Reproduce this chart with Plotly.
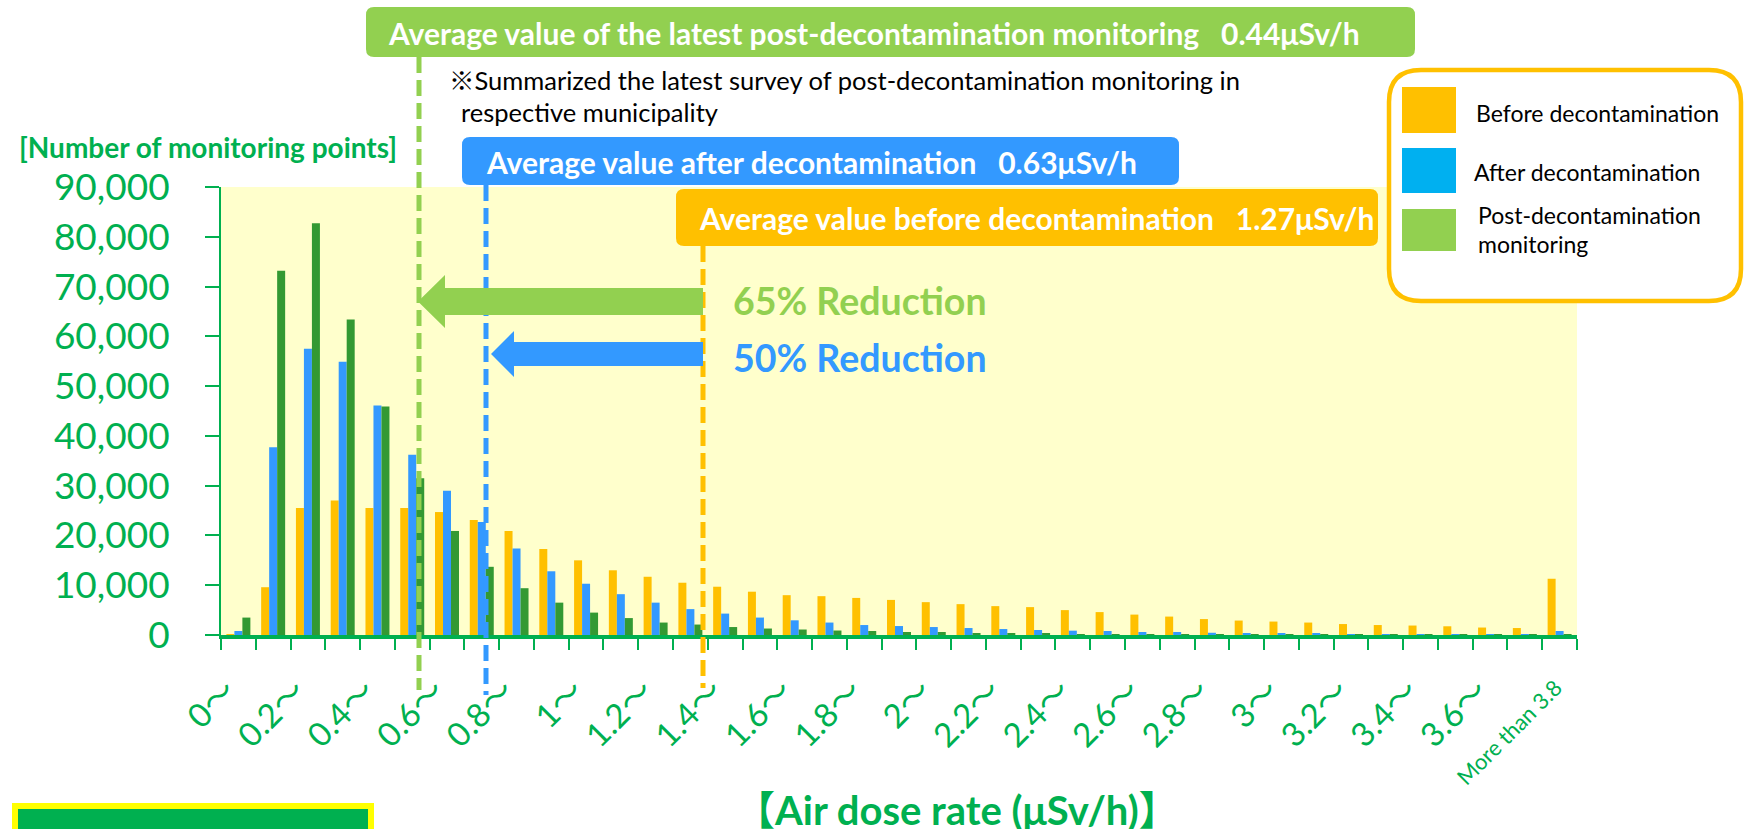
import plotly.graph_objects as go

# ---------------- data ----------------
categories = ["0〜", "0.1〜", "0.2〜", "0.3〜", "0.4〜", "0.5〜", "0.6〜", "0.7〜", "0.8〜", "0.9〜",
              "1〜", "1.1〜", "1.2〜", "1.3〜", "1.4〜", "1.5〜", "1.6〜", "1.7〜", "1.8〜", "1.9〜",
              "2〜", "2.1〜", "2.2〜", "2.3〜", "2.4〜", "2.5〜", "2.6〜", "2.7〜", "2.8〜", "2.9〜",
              "3〜", "3.1〜", "3.2〜", "3.3〜", "3.4〜", "3.5〜", "3.6〜", "3.7〜", "More than 3.8"]

before_decon = [50, 9600, 25500, 27000, 25500, 25500, 24700, 23100, 20900, 17300,
                15000, 13000, 11700, 10500, 9700, 8700, 8000, 7800, 7450, 7050,
                6600, 6200, 5800, 5600, 5000, 4600, 4100, 3700, 3200, 2900,
                2700, 2500, 2200, 2000, 1900, 1750, 1500, 1400, 11300]

after_decon = [800, 37700, 57500, 54900, 46100, 36200, 29000, 22700, 17400, 12800,
               10300, 8200, 6500, 5200, 4300, 3500, 2950, 2500, 2000, 1800,
               1600, 1400, 1200, 1000, 870, 800, 600, 600, 450, 400,
               330, 270, 200, 150, 120, 100, 80, 60, 800]

post_monitoring = [3500, 73200, 82700, 63400, 45900, 31500, 20900, 13700, 9400, 6500,
                   4500, 3400, 2500, 2100, 1600, 1300, 1100, 900, 800, 600,
                   600, 400, 300, 270, 200, 150, 100, 100, 80, 60,
                   50, 40, 30, 20, 20, 10, 10, 10, 100]

series_names = ["Before decontamination", "After decontamination", "Post-decontamination monitoring"]

# ---------------- styling ----------------
FONT = "Lato, 'Noto Sans CJK JP', sans-serif"
GREEN_TXT = "#00b050"
ORANGE = "#ffc000"
BLUE = "#3399ff"
DGREEN = "#339933"
LGREEN = "#92d050"

W_FIG, H_FIG = 1745, 829
L, R, T, B = 221, 1577, 187, 635


def px(x):
    return (x - L) / (R - L)


def py(y):
    return (B - y) / (B - T)


def rrect(x0, y0, x1, y1, r):
    def p(x, y):
        return f"{px(x):.5f},{py(y):.5f}"
    return (f"M {p(x0 + r, y0)} L {p(x1 - r, y0)} Q {p(x1, y0)} {p(x1, y0 + r)} "
            f"L {p(x1, y1 - r)} Q {p(x1, y1)} {p(x1 - r, y1)} L {p(x0 + r, y1)} "
            f"Q {p(x0, y1)} {p(x0, y1 - r)} L {p(x0, y0 + r)} Q {p(x0, y0)} {p(x0 + r, y0)} Z")


def arrow(tip_x, cy, base_x, end_x, shaft_h, head_h):
    def p(x, y):
        return f"{px(x):.5f},{py(y):.5f}"
    return (f"M {p(tip_x, cy)} L {p(base_x, cy - head_h / 2)} L {p(base_x, cy - shaft_h / 2)} "
            f"L {p(end_x, cy - shaft_h / 2)} L {p(end_x, cy + shaft_h / 2)} L {p(base_x, cy + shaft_h / 2)} "
            f"L {p(base_x, cy + head_h / 2)} Z")


fig = go.Figure()
for name, vals, col in zip(series_names, [before_decon, after_decon, post_monitoring], [ORANGE, BLUE, DGREEN]):
    fig.add_trace(go.Bar(x=categories, y=vals, name=name, marker=dict(color=col, line=dict(width=0))))

ticktext = []
for i, c in enumerate(categories):
    if c.startswith("More"):
        ticktext.append("<span style='font-size:22px'>" + c + "\u2002</span>")
    elif i % 2 == 0:
        ticktext.append(c + "\u2002")
    else:
        ticktext.append("")

shapes = []
# banners
shapes.append(dict(type="path", xref="paper", yref="paper", path=rrect(366, 7, 1415, 57, 8),
                   fillcolor=LGREEN, line=dict(width=0), layer="above"))
shapes.append(dict(type="path", xref="paper", yref="paper", path=rrect(462, 137, 1179, 185, 8),
                   fillcolor=BLUE, line=dict(width=0), layer="above"))
shapes.append(dict(type="path", xref="paper", yref="paper", path=rrect(676, 189, 1378, 246, 8),
                   fillcolor=ORANGE, line=dict(width=0), layer="above"))
# dashed lines
shapes.append(dict(type="line", xref="paper", yref="paper", x0=px(419), x1=px(419), y0=py(57), y1=py(690),
                   line=dict(color=LGREEN, width=5, dash="16px,7px"), layer="above"))
shapes.append(dict(type="line", xref="paper", yref="paper", x0=px(486), x1=px(486), y0=py(185), y1=py(695),
                   line=dict(color=BLUE, width=5, dash="16px,7px"), layer="above"))
shapes.append(dict(type="line", xref="paper", yref="paper", x0=px(703), x1=px(703), y0=py(246), y1=py(688),
                   line=dict(color=ORANGE, width=5, dash="16px,7px"), layer="above"))
# arrows
shapes.append(dict(type="path", xref="paper", yref="paper", path=arrow(418, 301.5, 445, 703, 27, 53),
                   fillcolor=LGREEN, line=dict(width=0), layer="above"))
shapes.append(dict(type="path", xref="paper", yref="paper", path=arrow(491, 354, 514, 703, 24, 46),
                   fillcolor=BLUE, line=dict(width=0), layer="above"))
# legend box
shapes.append(dict(type="path", xref="paper", yref="paper", path=rrect(1389, 70, 1741, 301, 32),
                   fillcolor="white", line=dict(color=ORANGE, width=4.5), layer="above"))
legend_cols = [ORANGE, "#00b0f0", LGREEN]
legend_boxes = [(87, 133), (148, 193), (209, 251)]
for col, (y0, y1) in zip(legend_cols, legend_boxes):
    shapes.append(dict(type="rect", xref="paper", yref="paper", x0=px(1402), x1=px(1456), y0=py(y0), y1=py(y1),
                       fillcolor=col, line=dict(width=0), layer="above"))
# bottom-left box
shapes.append(dict(type="rect", xref="paper", yref="paper", x0=px(15), x1=px(371), y0=py(806), y1=py(840),
                   fillcolor=GREEN_TXT, line=dict(color="#ffff00", width=6), layer="above"))

annotations = []


def ann(text, x, y, size, color, bold=False, xanchor="left"):
    t = f"<b>{text}</b>" if bold else text
    annotations.append(dict(text=t, x=px(x), y=py(y), xref="paper", yref="paper", xanchor=xanchor,
                            yanchor="middle", showarrow=False, font=dict(family=FONT, size=size, color=color)))


ann("Average value of the latest post-decontamination monitoring\u00a0\u00a0\u00a00.44μSv/h", 386, 33, 30, "white", True)
ann("Average value after decontamination\u00a0\u00a0\u00a00.63μSv/h", 484, 162, 30, "white", True)
ann("Average value before decontamination\u00a0\u00a0\u00a01.27μSv/h", 697, 218, 30, "white", True)
ann("※Summarized the latest survey of post-decontamination monitoring in", 447, 80, 25.5, "black")
ann("respective municipality", 459, 112, 25.5, "black")
ann("[Number of monitoring points]", 17, 147, 28, GREEN_TXT, True)
ann("65% Reduction", 731, 300, 37.5, LGREEN, True)
ann("50% Reduction", 731, 357, 37.5, BLUE, True)
ann(series_names[0], 1474, 113, 23, "black")
ann(series_names[1], 1472, 172, 23, "black")
ann("Post-decontamination", 1476, 215, 23, "black")
ann("monitoring", 1476, 244, 23, "black")
ann("【Air dose rate (μSv/h)】", 957, 810, 40, GREEN_TXT, True, xanchor="center")

fig.update_layout(
    width=W_FIG, height=H_FIG,
    margin=dict(l=L, r=W_FIG - R, t=T, b=H_FIG - B, autoexpand=False),
    paper_bgcolor="white", plot_bgcolor="#ffffcc",
    barmode="group", bargap=0.31, bargroupgap=0,
    showlegend=False,
    font=dict(family=FONT, color=GREEN_TXT),
    shapes=shapes, annotations=annotations,
    xaxis=dict(type="category", tickmode="array", tickvals=categories, ticktext=ticktext,
               tickson="boundaries", ticks="outside", ticklen=11, tickwidth=2, tickcolor=GREEN_TXT,
               showline=True, linewidth=4, linecolor=GREEN_TXT, showgrid=False, zeroline=False,
               tickangle=-45, tickfont=dict(family=FONT, size=33, color=GREEN_TXT),
               ticklabelstandoff=8,
               range=[-0.5, len(categories) - 0.5]),
    yaxis=dict(range=[0, 90000], dtick=10000, tickformat=",", ticks="outside", ticklen=14, tickwidth=2,
               tickcolor=GREEN_TXT, showline=True, linewidth=2, linecolor=GREEN_TXT, showgrid=False,
               zeroline=False, tickfont=dict(family=FONT, size=37, color=GREEN_TXT), ticklabelstandoff=28),
)

fig.write_html("out.html", config={"displayModeBar": False},
               post_script="document.body.style.margin='0px';document.body.style.overflow='hidden';")
